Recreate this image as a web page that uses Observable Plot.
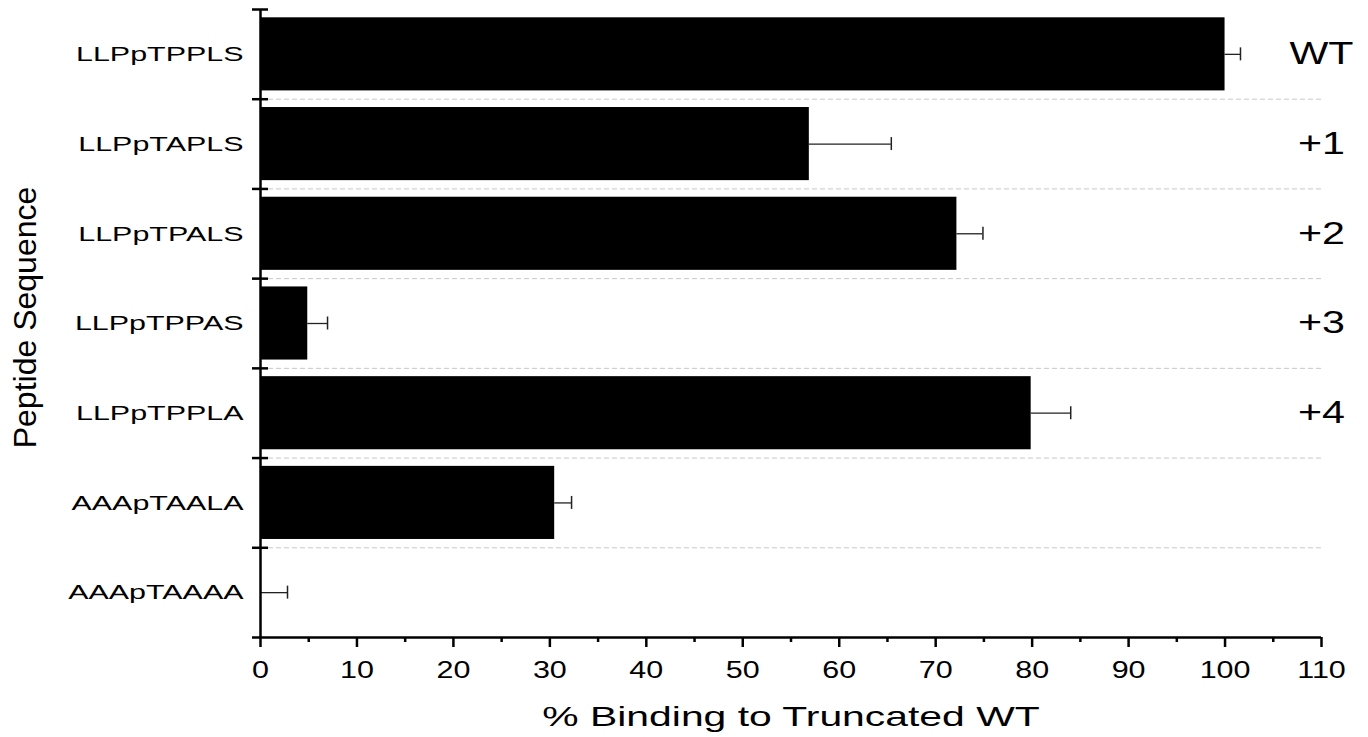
<!DOCTYPE html>
<html>
<head>
<meta charset="utf-8">
<script src="https://cdn.jsdelivr.net/npm/d3@7"></script>
<script src="https://cdn.jsdelivr.net/npm/@observablehq/plot@0.6"></script>
<style>
  html, body { margin: 0; padding: 0; background: #fff; }
  #chart svg { display: block; }
</style>
</head>
<body>
<div id="chart"></div>
<script>
// ---- data ----
const sequences = ["LLPpTPPLS", "LLPpTAPLS", "LLPpTPALS", "LLPpTPPAS", "LLPpTPPLA", "AAApTAALA", "AAApTAAAA"];
const binding   = [100, 56.9, 72.2, 4.9, 79.9, 30.5, 0];
const errors    = [1.6, 8.5, 2.7, 2.05, 4.1, 1.75, 2.8];
const positionLabels = ["WT", "+1", "+2", "+3", "+4", "", ""];
const xMajorTicks = [0, 10, 20, 30, 40, 50, 60, 70, 80, 90, 100, 110];
const xMinorTicks = [5, 15, 25, 35, 45, 55, 65, 75, 85, 95, 105];
const xDomain = [0, 110];
const xTitle = "% Binding to Truncated WT";
const yTitle = "Peptide Sequence";

const rows = sequences.map((s, i) => ({seq: s, value: binding[i], err: errors[i], label: positionLabels[i]}));

// ---- layout ----
const W = 1368, H = 737;
const mTop = 9, mBottom = 100, mLeft = 260, mRight = 47;
const bw = (H - mTop - mBottom) / sequences.length;
const last = sequences[sequences.length - 1];

const plot = Plot.plot({
  width: W,
  height: H,
  marginTop: mTop,
  marginBottom: mBottom,
  marginLeft: mLeft,
  marginRight: mRight,
  style: {fontFamily: "'Liberation Sans', Arial, sans-serif", color: "#000", background: "#fff", overflow: "visible"},
  x: {domain: xDomain},
  y: {domain: sequences, padding: 0, round: false},
  marks: [
    // dashed separators between rows
    Plot.ruleY(sequences.slice(1), {y: d => d, dy: -bw / 2, x1: xDomain[0], x2: xDomain[1], stroke: "#c8c8c8", strokeWidth: 1, strokeDasharray: "5,3"}),
    // bars
    Plot.barX(rows, {y: "seq", x: "value", fill: "#000", insetTop: 8.3, insetBottom: 8.3}),
    // error bars (one-sided)
    Plot.ruleY(rows, {y: "seq", x1: "value", x2: d => d.value + d.err, stroke: "#222", strokeWidth: 1.3}),
    Plot.tickX(rows, {y: "seq", x: d => d.value + d.err, stroke: "#222", strokeWidth: 1.5, insetTop: bw / 2 - 6.5, insetBottom: bw / 2 - 6.5}),
    // y axis line
    Plot.ruleX([xDomain[0]], {stroke: "#000", strokeWidth: 2.5}),
    // row boundary ticks crossing the y axis
    Plot.ruleY(sequences, {y: d => d, dy: -bw / 2, x1: xDomain[0], x2: xDomain[0], insetLeft: -8, insetRight: -8, stroke: "#000", strokeWidth: 2.5}),
    // x axis line
    Plot.ruleY([last], {y: d => d, dy: bw / 2, x1: xDomain[0], x2: xDomain[1], insetLeft: -8, stroke: "#000", strokeWidth: 2.5}),
    // axes
    Plot.axisX({ticks: xMajorTicks, tickSize: 10, tickPadding: 13, fontSize: 24, strokeWidth: 2.5, label: null}),
    Plot.axisX({ticks: xMinorTicks, tickSize: 5, tickFormat: () => "", strokeWidth: 2.5, label: null}),
    Plot.axisY({tickSize: 0, tickPadding: 17, fontSize: 21, label: null}),
    // position labels on the right
    Plot.text(rows, {y: "seq", x: xDomain[1], text: "label", fontSize: 31, textAnchor: "middle", lineAnchor: "middle", fill: "#000"}),
    // axis titles
    Plot.text([xTitle], {text: d => d, frameAnchor: "bottom", lineAnchor: "bottom", textAnchor: "middle", dy: 88, fontSize: 28, fill: "#000"}),
    Plot.text([yTitle], {text: d => d, frameAnchor: "left", rotate: -90, lineAnchor: "middle", textAnchor: "middle", dx: -235, dy: -6, fontSize: 32, fill: "#000"})
  ]
});

document.getElementById("chart").appendChild(plot);

// horizontal widening of the glyphs, as in the reference
function widen(groups, s) {
  groups.forEach(g => {
    g.querySelectorAll("text").forEach(t => {
      const tr = t.getAttribute("transform") || "";
      t.setAttribute("transform", tr + ` scale(${s},1)`);
    });
  });
}
const allG = Array.from(plot.querySelectorAll("g[aria-label]"));
const byLabel = l => allG.filter(g => g.getAttribute("aria-label") === l);
widen(byLabel("y-axis tick label"), 1.45);
widen(byLabel("x-axis tick label"), 1.27);
const textGroups = byLabel("text");
if (textGroups[0]) widen([textGroups[0]], 1.33);
if (textGroups[1]) widen([textGroups[1]], 1.46);
</script>
</body>
</html>
